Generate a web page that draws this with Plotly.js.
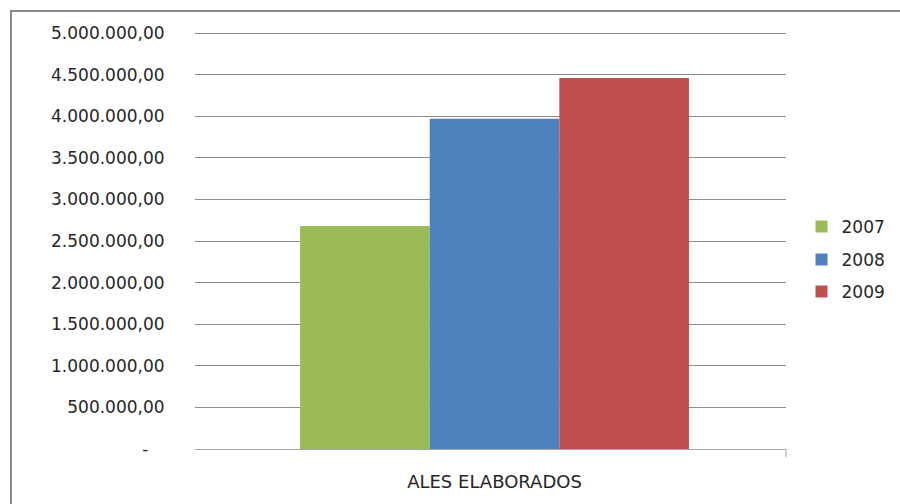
<!DOCTYPE html>
<html>
<head>
<meta charset="utf-8">
<script src="https://cdn.plot.ly/plotly-3.0.1.min.js"></script>
<style>
  html, body { margin: 0; padding: 0; background: #fff; }
  #wrap { position: relative; width: 900px; height: 504px; overflow: hidden; }
  #frame { position: absolute; left: 10px; top: 10px; width: 900px; height: 500px;
           border-left: 2px solid #8a8a8a; border-top: 2px solid #8a8a8a; pointer-events: none; }
  #chart { position: absolute; left: 0; top: 0; width: 900px; height: 504px; }
</style>
</head>
<body>
<div id="wrap">
  <div id="frame"></div>
  <div id="chart"></div>
</div>
<script>
const categories = ["ALES ELABORADOS"];
const seriesNames = ["2007", "2008", "2009"];
const values2007 = [2680000];
const values2008 = [3970000];
const values2009 = [4460000];
const seriesColors = ["#9BBB59", "#4F81BD", "#C0504D"];
const yTickVals = [0, 500000, 1000000, 1500000, 2000000, 2500000, 3000000, 3500000, 4000000, 4500000, 5000000];
const yTickText = ["-\u00a0\u00a0\u00a0", "500.000,00", "1.000.000,00", "1.500.000,00", "2.000.000,00", "2.500.000,00",
                   "3.000.000,00", "3.500.000,00", "4.000.000,00", "4.500.000,00", "5.000.000,00"];

const seriesValues = [values2007, values2008, values2009];
const legendIds = ["legend", "legend2", "legend3"];

const traces = seriesNames.map((name, i) => ({
  type: "bar",
  name: name,
  x: categories,
  y: seriesValues[i],
  marker: { color: seriesColors[i], line: { width: 0 } },
  legend: legendIds[i],
  hoverinfo: "none"
}));

const font = { family: "DejaVu Sans, Verdana, sans-serif", size: 17, color: "#262626" };
const plotH = 416;
const yMax = yTickVals[yTickVals.length - 1];
const legendBase = { x: 801.5 / 900, xref: "container", yref: "container", xanchor: "left", yanchor: "middle",
                     font: font, bgcolor: "rgba(0,0,0,0)", borderwidth: 0 };

const layout = {
  width: 900,
  height: 504,
  margin: { l: 195, r: 114, t: 33, b: 55, pad: 0, autoexpand: false },
  paper_bgcolor: "rgba(0,0,0,0)",
  plot_bgcolor: "rgba(0,0,0,0)",
  font: font,
  barmode: "group",
  bargap: 0.342,
  bargroupgap: 0,
  showlegend: true,
  legend:  Object.assign({}, legendBase, { y: (504 - 227) / 504 }),
  legend2: Object.assign({}, legendBase, { y: (504 - 260) / 504 }),
  legend3: Object.assign({}, legendBase, { y: (504 - 292) / 504 }),
  xaxis: {
    type: "category",
    range: [-0.5068, 0.4932],
    showgrid: false,
    showline: true,
    linecolor: "#a6a6a6",
    linewidth: 1,
    ticks: "outside",
    ticklen: 16,
    tickcolor: "rgba(0,0,0,0)",
    tickfont: Object.assign({}, font, { size: 18 }),
    zeroline: false,
    fixedrange: true
  },
  yaxis: {
    range: [0, yMax],
    tickmode: "array",
    tickvals: yTickVals,
    ticktext: yTickText,
    showgrid: true,
    gridcolor: "#8c8c8c",
    gridwidth: 1,
    zeroline: false,
    showline: false,
    ticks: "outside",
    ticklen: 26,
    tickcolor: "rgba(0,0,0,0)",
    tickfont: font,
    fixedrange: true
  },
  shapes: [
    { type: "line", xref: "paper", yref: "paper", x0: 0, x1: 1, y0: 1 - 0.5 / plotH, y1: 1 - 0.5 / plotH,
      line: { color: "#8c8c8c", width: 1 }, layer: "below" },
    { type: "line", xref: "paper", yref: "paper", x0: 1, x1: 1, y0: 0, y1: -8 / plotH,
      line: { color: "#a6a6a6", width: 1 } }
  ]
};

Plotly.newPlot("chart", traces, layout, { displayModeBar: false, staticPlot: true });
</script>
</body>
</html>
